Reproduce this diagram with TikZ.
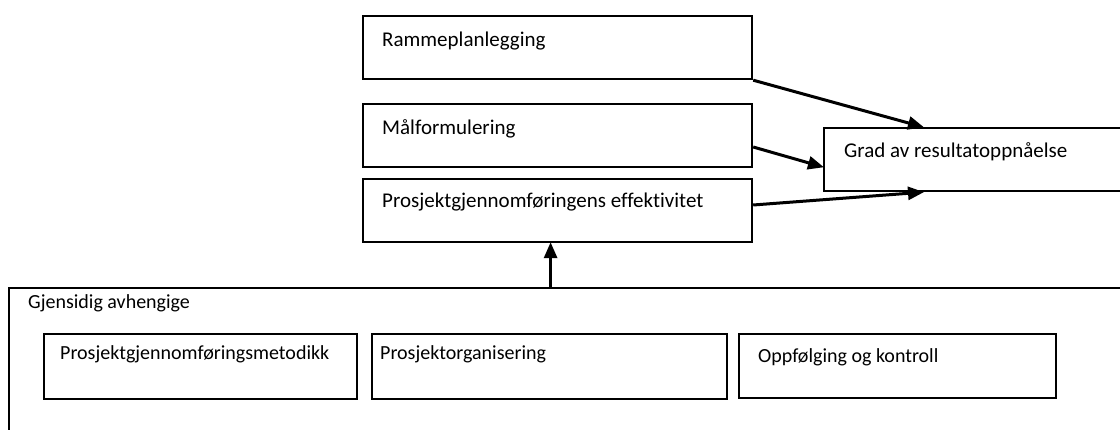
\documentclass[tikz,border=0pt]{standalone}
\usepackage{fontspec}
\setmainfont{Carlito}[Ligatures=NoCommon]
\usetikzlibrary{arrows.meta,calc}

\tikzset{
  box/.style={draw, line width=2.2pt, anchor=north west, inner sep=0pt},
  lbl/.style={anchor=base west, inner sep=0pt},
  small/.style={font=\fontsize{20}{24}\selectfont},
  flow/.style={line width=3pt, -{Triangle[length=16pt,width=13pt]}, shorten >=-1pt},
}

\begin{document}
\begin{tikzpicture}[x=1pt,y=-1pt, font=\fontsize{21}{25}\selectfont]
\clip (0,0) rectangle (1120,430);
\fill[white] (0,0) rectangle (1120,430);

% left column of factors
\node[box, minimum width=389, minimum height=63] (ramme) at (362,15) {};
\node[lbl] (rammeT) at (382,47) {Rammeplanlegging};

\node[box, minimum width=389, minimum height=63] (maal) at (362,103) {};
\node[lbl] (maalT) at (382,135) {Målformulering};

\node[box, minimum width=389, minimum height=63] (effekt) at (362,178) {};
\node[lbl] (effektT) at (382,208) {Prosjektgjennomføringens effektivitet};

% outcome
\node[box, minimum width=320, minimum height=63] (grad) at (823,127) {};
\node[lbl] (gradT) at (844,158) {Grad av resultatoppnåelse};

% frame around the mutually dependent factors
\node[box, line width=1.8pt, minimum width=1130, minimum height=160] (gjens) at (8,287) {};
\node[lbl, small] (gjensT) at (28,309) {Gjensidig avhengige};

\node[box, minimum width=313, minimum height=65] (metod) at (43,333) {};
\node[lbl, small] (metodT) at (60,360) {Prosjektgjennomføringsmetodikk};

\node[box, minimum width=355, minimum height=65] (organ) at (371,333) {};
\node[lbl, small] (organT) at (380,360) {Prosjektorganisering};

\node[box, minimum width=317, minimum height=64] (oppf) at (738,333) {};
\node[lbl, small] (oppfT) at (758,363) {Oppfølging og kontroll};

% influences
\draw[flow] (ramme.south east) -- ($(grad.north west)+(100,0)$);
\draw[flow] ($(maal.north east)+(0,44)$) -- ($(grad.north west)+(0,40)$);
\draw[flow] ($(effekt.north east)+(0,27)$) -- ($(grad.south west)+(100,0)$);
\coordinate (up) at ($(effekt.south)+(-7,0)$);
\draw[flow] (gjens.north -| up) -- (up);
\end{tikzpicture}
\end{document}
